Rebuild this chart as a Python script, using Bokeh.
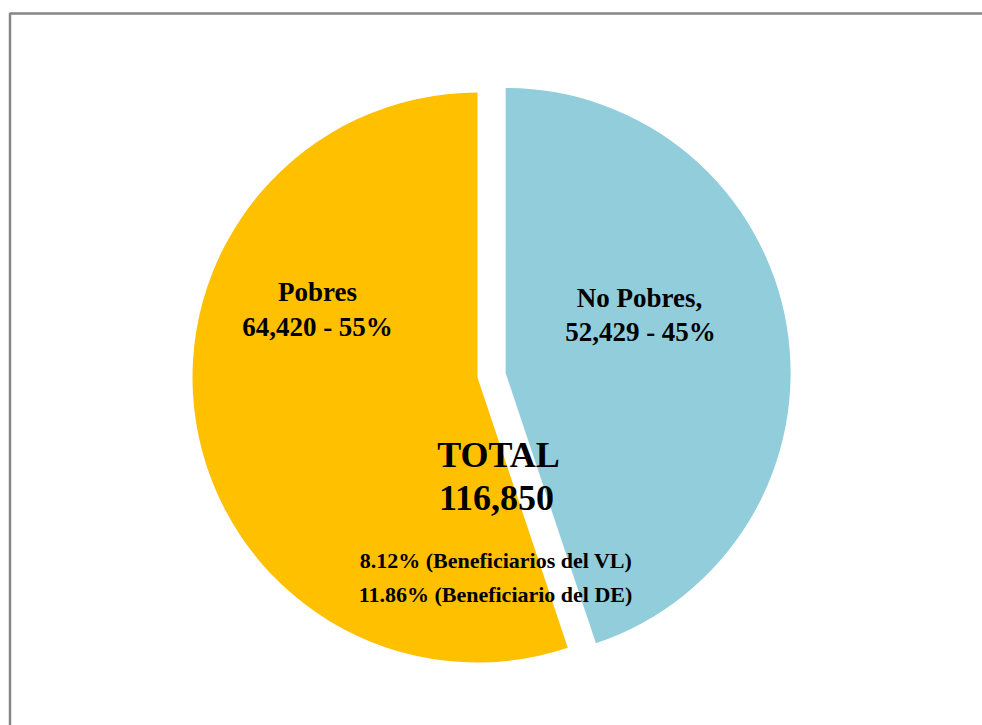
import math
from bokeh.plotting import figure
from bokeh.models import Range1d, BoxAnnotation, ColumnDataSource
from bokeh.core.properties import value
from bokeh.embed import file_html
from bokeh.resources import INLINE

# ---- data ----
categories = ["Pobres", "No Pobres"]
label_heads = ["Pobres", "No Pobres,"]
counts = [64420, 52429]
colors = ["#FFC000", "#92CDDC"]
total_label = 116850
notes_pct = [8.12, 11.86]
notes_text = ["(Beneficiarios del VL)", "(Beneficiario del DE)"]

# ---- layout (pixel-like data units) ----
W, H = 982, 725
cx, cy = 477, 348          # pie centre
R = 285
explode = [0.0, 28.5]      # per-slice explosion distance
label_pos = [((317, 434), (317, 399)), ((639, 428), (640, 394))]
total_pos = ((498, 271), (496, 228))
notes_pos = [(495.5, 165), (495, 131)]
FONT = "Liberation Serif"

p = figure(width=W, height=H, output_backend="svg", toolbar_location=None,
           x_range=Range1d(0, W), y_range=Range1d(0, H), min_border=0,
           background_fill_color="white", border_fill_color="white")
p.axis.visible = False
p.grid.visible = False
p.outline_line_color = None

s = sum(counts)
start = math.pi / 2
xs, ys, starts, ends = [], [], [], []
for i, c in enumerate(counts):
    a0 = start
    a1 = start + 2 * math.pi * c / s
    mid = (a0 + a1) / 2
    xs.append(cx + explode[i] * math.cos(mid))
    ys.append(cy + explode[i] * math.sin(mid))
    starts.append(a0)
    ends.append(a1)
    start = a1

src = ColumnDataSource(dict(x=xs, y=ys, s=starts, e=ends, color=colors))
p.wedge(x="x", y="y", radius=R, start_angle="s", end_angle="e",
        fill_color="color", line_color=None, source=src)

for i, c in enumerate(counts):
    pct = round(100 * c / s)
    (x1, y1), (x2, y2) = label_pos[i]
    for (tx, ty, t) in [(x1, y1, label_heads[i]), (x2, y2, f"{c:,} - {pct}%")]:
        p.text(x=[tx], y=[ty], text=[t], text_font=value(FONT), text_font_style="bold",
               text_font_size="27px", text_align="center", text_baseline="alphabetic",
               text_color="black")

for (tx, ty), t in zip(total_pos, ["TOTAL", f"{total_label:,}"]):
    p.text(x=[tx], y=[ty], text=[t], text_font=value(FONT), text_font_style="bold",
           text_font_size="36px", text_align="center", text_baseline="alphabetic",
           text_color="black")

for (tx, ty), pc, t in zip(notes_pos, notes_pct, notes_text):
    p.text(x=[tx], y=[ty], text=[f"{pc:.2f}% {t}"], text_font=value(FONT),
           text_font_style="bold", text_font_size="22px", text_align="center",
           text_baseline="alphabetic", text_color="black")

# chart-area border (extends beyond right/bottom of the view)
p.add_layout(BoxAnnotation(left=9.5, right=W + 200, top=H - 13, bottom=-200,
                           fill_alpha=0, line_color="#878787", line_alpha=1.0,
                           line_width=2.5))

open("out.html", "w").write(file_html(p, INLINE))
